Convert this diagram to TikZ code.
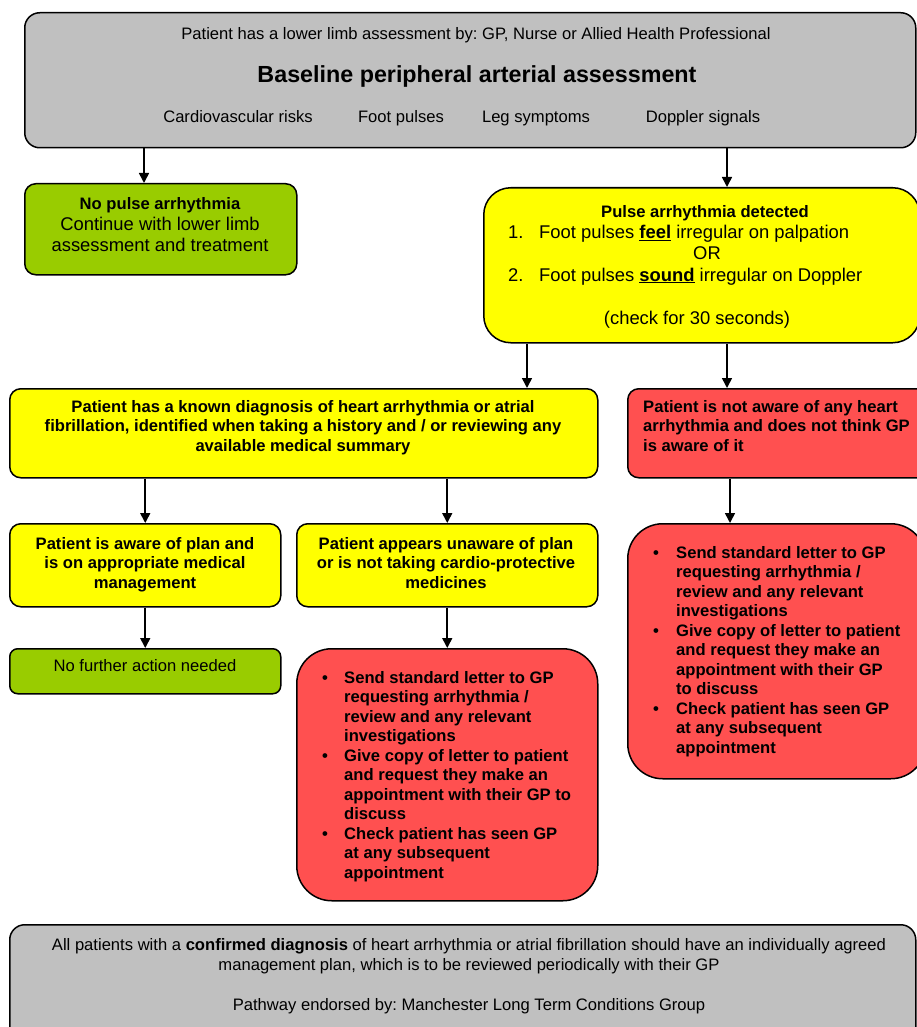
\documentclass[tikz,border=0pt]{standalone}
\usepackage{fontspec}
\setmainfont{Liberation Sans}
\usetikzlibrary{arrows.meta}
\definecolor{panelgrey}{HTML}{C0C0C0}
\definecolor{okgreen}{HTML}{99CC00}
\definecolor{warnyellow}{HTML}{FFFF00}
\definecolor{alertred}{HTML}{FF5050}
\newcommand{\bodyfont}{\fontsize{16.6}{19.5}\selectfont}
\newcommand{\bigfont}{\fontsize{18.4}{21}\selectfont}
\frenchspacing
\begin{document}
\begin{tikzpicture}[
x=1pt,y=-1pt,
panel/.style={draw,line width=1.5pt,anchor=north west,inner sep=0pt,rounded corners=#1},
greybox/.style={panel=15pt,fill=panelgrey},
greenbox/.style={panel=11pt,fill=okgreen},
yellowbox/.style={panel=11pt,fill=warnyellow},
redbox/.style={panel=11pt,fill=alertred},
txt/.style={inner sep=0pt,font=\bodyfont},
boldtxt/.style={inner sep=0pt,font=\bfseries\bodyfont},
link/.style={-{Triangle[length=10pt,width=10pt]},line width=1.6pt}
]
\useasboundingbox (0,0) rectangle (917,1027);

% boxes
\node[greybox,minimum width=891pt,minimum height=135pt] (assess) at (24,12) {};
\node[greenbox,minimum width=272pt,minimum height=91pt] (nopulse) at (24,183) {};
\node[yellowbox,rounded corners=27pt,minimum width=436pt,minimum height=155pt] (detected) at (483,187) {};
\node[yellowbox,minimum width=588pt,minimum height=89pt] (known) at (9,388) {};
\node[redbox,minimum width=305pt,minimum height=89pt] (notaware) at (627,388) {};
\node[yellowbox,minimum width=271pt,minimum height=83pt] (aware) at (9,523) {};
\node[yellowbox,minimum width=301pt,minimum height=83pt] (planless) at (296,523) {};
\node[greenbox,rounded corners=8pt,minimum width=271pt,minimum height=45pt] (nofurther) at (9,648) {};
\node[redbox,rounded corners=35pt,minimum width=301pt,minimum height=252pt] (letterM) at (296,648) {};
\node[redbox,rounded corners=35pt,minimum width=298pt,minimum height=255pt] (letterR) at (627,523) {};
\node[greybox,minimum width=906pt,minimum height=120pt] (endnote) at (9,924) {};

% top panel
\node[txt,anchor=base] (assess-by) at (476,40) {Patient has a lower limb assessment by: GP, Nurse or Allied Health Professional};
\node[inner sep=0pt,anchor=base,font=\bfseries\fontsize{23.3}{28}\selectfont] (assess-title) at (477,82.5) {Baseline peripheral arterial assessment};
\node[txt,anchor=base] (risks) at (238,123) {Cardiovascular risks};
\node[txt,anchor=base] (pulses) at (401,123) {Foot pulses};
\node[txt,anchor=base] (symptoms) at (536,123) {Leg symptoms};
\node[txt,anchor=base] (doppler) at (703,123) {Doppler signals};

% no pulse arrhythmia
\node[inner sep=0pt,anchor=north,align=center,font=\bigfont] (nopulse-txt) at (160,197)
{{\bfseries\fontsize{16.6}{21}\selectfont No pulse arrhythmia}\\Continue with lower limb\\assessment and treatment};

% pulse arrhythmia detected
\node[boldtxt,anchor=base] (dt-title) at (705,217) {Pulse arrhythmia detected};
\node[inner sep=0pt,anchor=base west,font=\bigfont] (dt-one) at (508,238.6)
{\makebox[31pt][l]{1.}Foot pulses \underline{\textbf{feel}} irregular on palpation};
\node[inner sep=0pt,anchor=base,font=\bigfont] (dt-or) at (707,259) {OR};
\node[inner sep=0pt,anchor=base west,font=\bigfont] (dt-two) at (508,281)
{\makebox[31pt][l]{2.}Foot pulses \underline{\textbf{sound}} irregular on Doppler};
\node[inner sep=0pt,anchor=base,font=\bigfont] (dt-check) at (697,324) {(check for 30 seconds)};

% second row
\node[boldtxt,anchor=north,align=center] (known-txt) at (303,400)
{Patient has a known diagnosis of heart arrhythmia or atrial\\fibrillation, identified when taking a history and / or reviewing any\\available medical summary};
\node[boldtxt,anchor=north west,align=left] (notaware-txt) at (643,400)
{Patient is not aware of any heart\\arrhythmia and does not think GP\\is aware of it};

% third row
\node[boldtxt,anchor=north,align=center] (aware-txt) at (145,537)
{Patient is aware of plan and\\is on appropriate medical\\management};
\node[boldtxt,anchor=north,align=center] (planless-txt) at (446,537)
{Patient appears unaware of plan\\or is not taking cardio-protective\\medicines};
\node[txt,anchor=base] (nofurther-txt) at (145,671) {No further action needed};

% letters to GP
\node[boldtxt,anchor=north west] (letterM-txt) at (322,669.3)
{\begin{tabular}{@{}p{22pt}@{}l@{}}
\textbullet & Send standard letter to GP\\
 & requesting arrhythmia /\\
 & review and any relevant\\
 & investigations\\
\textbullet & Give copy of letter to patient\\
 & and request they make an\\
 & appointment with their GP to\\
 & discuss\\
\textbullet & Check patient has seen GP\\
 & at any subsequent\\
 & appointment
\end{tabular}};
\node[boldtxt,anchor=north west] (letterR-txt) at (653,544.3)
{\begin{tabular}{@{}p{23pt}@{}l@{}}
\textbullet & Send standard letter to GP\\
 & requesting arrhythmia /\\
 & review and any relevant\\
 & investigations\\
\textbullet & Give copy of letter to patient\\
 & and request they make an\\
 & appointment with their GP\\
 & to discuss\\
\textbullet & Check patient has seen GP\\
 & at any subsequent\\
 & appointment
\end{tabular}};

% footer
\node[inner sep=0pt,anchor=north,align=center,font=\fontsize{16.6}{20}\selectfont] (endnote-txt) at (469,938)
{All patients with a \textbf{confirmed diagnosis} of heart arrhythmia or atrial fibrillation should have an individually agreed\\management plan, which is to be reviewed periodically with their GP\\[20pt]Pathway endorsed by: Manchester Long Term Conditions Group};

% arrows
\draw[link] ([xshift=120pt]assess.south west) -- ([xshift=120pt]nopulse.north west);
\draw[link] ([xshift=703pt]assess.south west) -- ([xshift=244pt]detected.north west);
\draw[link] ([xshift=44pt]detected.south west) -- ([xshift=518pt]known.north west);
\draw[link] ([xshift=244pt]detected.south west) -- ([xshift=100pt]notaware.north west);
\draw[link] (aware.north |- known.south) -- (aware.north);
\draw[link] (planless.north |- known.south) -- (planless.north);
\draw[link] ([xshift=103pt]notaware.south west) -- ([xshift=103pt]letterR.north west);
\draw[link] (aware.south) -- (nofurther.north);
\draw[link] (planless.south) -- (letterM.north);
\end{tikzpicture}
\end{document}
